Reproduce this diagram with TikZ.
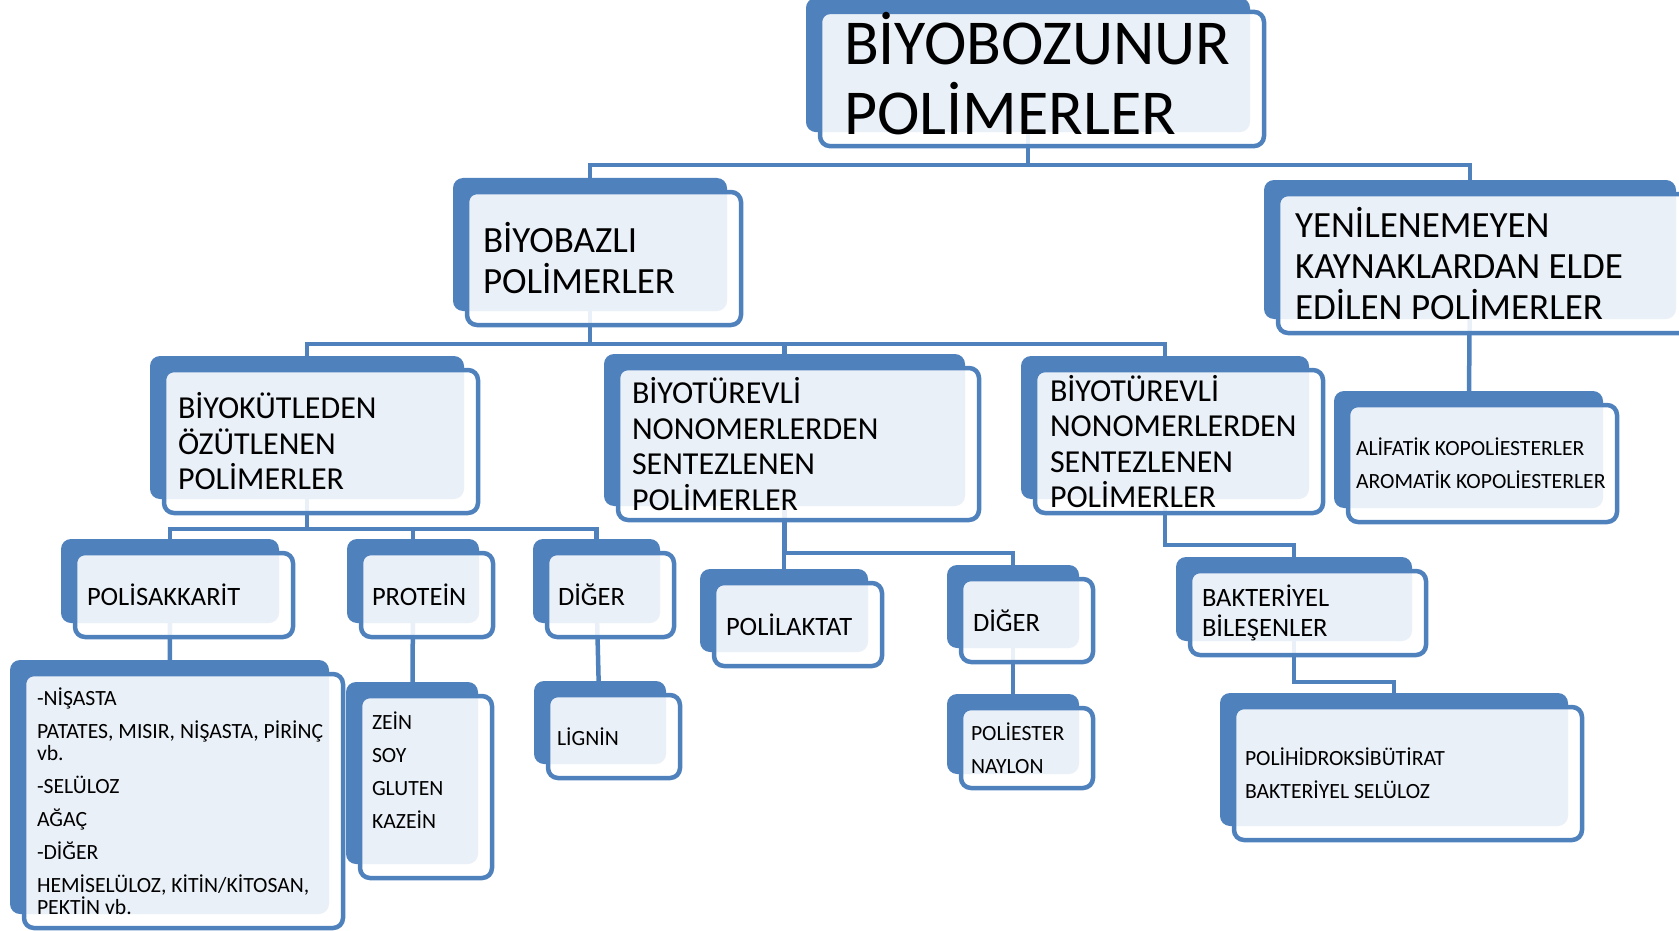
\documentclass[tikz,border=0pt]{standalone}
\usepackage{fontspec}
\setmainfont{Carlito}
\usepackage{tikz}
\usetikzlibrary{shadows,backgrounds}
\definecolor{kmavi}{RGB}{79,129,189}

\begin{document}
\begin{tikzpicture}[x=1pt,y=-1pt,
  kutu/.style={draw=kmavi,line width=4.5pt,rounded corners=10pt,fill=white,fill opacity=.885,text opacity=1,
    align=flush left,inner sep=0pt,
    general shadow={fill=kmavi,fill opacity=1,shadow xshift=-14pt,shadow yshift=14pt}},
  bag/.style={draw=kmavi,line width=4.5pt},
  f1/.style={font=\fontsize{64}{70}\selectfont},
  f2/.style={font=\fontsize{37}{41}\selectfont},
  f3/.style={font=\fontsize{32}{35.5}\selectfont},
  f4/.style={font=\fontsize{26.5}{30}\selectfont},
  f5/.style={font=\fontsize{21.7}{33}\selectfont}]
\useasboundingbox (0,0) rectangle (1679,931);

% ust seviyeler
\node[kutu,f1,minimum width=444pt,minimum height=128pt,text width=396pt] (top) at (1042,79) {BİYOBOZUNUR\\POLİMERLER\rule[-12pt]{0pt}{12pt}};
\node[kutu,f2,minimum width=274pt,minimum height=133pt,text width=242pt] (bazli) at (604,258.5) {BİYOBAZLI\\POLİMERLER};
\node[kutu,f2,minimum width=412pt,minimum height=139pt,text width=378pt] (yeni) at (1484,263.5) {YENİLENEMEYEN\\KAYNAKLARDAN ELDE\\EDİLEN POLİMERLER};
\node[kutu,f3,minimum width=314pt,minimum height=143pt,text width=286pt] (kutle) at (321,441.5) {BİYOKÜTLEDEN\\ÖZÜTLENEN\\POLİMERLER};
\node[kutu,f3,minimum width=361pt,minimum height=152pt,text width=333pt] (turev1) at (798.5,444) {BİYOTÜREVLİ\\NONOMERLERDEN\\SENTEZLENEN\\POLİMERLER};
\node[kutu,f3,minimum width=288pt,minimum height=143pt,text width=258pt] (turev2) at (1179,441.5) {BİYOTÜREVLİ\\NONOMERLERDEN\\SENTEZLENEN\\POLİMERLER};
\node[kutu,f5,minimum width=269pt,minimum height=117pt,text width=253pt] (kopol) at (1482.5,463.5) {ALİFATİK KOPOLİESTERLER\\AROMATİK KOPOLİESTERLER};

% alt seviyeler
\node[kutu,f4,minimum width=218pt,minimum height=84pt,text width=194pt] (poli) at (184,595) {POLİSAKKARİT};
\node[kutu,f4,minimum width=132pt,minimum height=84pt,text width=110pt] (prot) at (427,595) {PROTEİN};
\node[kutu,f4,minimum width=127pt,minimum height=84pt,text width=105pt] (diger1) at (610.5,595) {DİĞER};
\node[kutu,font=\fontsize{21.7}{22}\selectfont,minimum width=319pt,minimum height=254pt,text width=293pt] (nisasta) at (183.5,801)
  {-NİŞASTA\\[11pt]PATATES, MISIR, NİŞASTA, PİRİNÇ\\vb.\\[11pt]-SELÜLOZ\\[11pt]AĞAÇ\\[11pt]-DİĞER\\[11pt]HEMİSELÜLOZ, KİTİN/KİTOSAN,\\PEKTİN vb.};
\node[kutu,f5,minimum width=132pt,minimum height=182pt,text width=108pt] (zein) at (426,787) {ZEİN\\SOY\\GLUTEN\\KAZEİN\\\mbox{}};
\node[kutu,f5,minimum width=132pt,minimum height=83pt,text width=114pt] (lignin) at (614,736.5) {LİGNİN};
\node[kutu,f4,minimum width=168pt,minimum height=83pt,text width=144pt] (polilak) at (798,624.5) {POLİLAKTAT};
\node[kutu,f4,minimum width=132pt,minimum height=83pt,text width=108pt] (diger2) at (1027,620.5) {DİĞER};
\node[kutu,f5,minimum width=132pt,minimum height=80pt,text width=112pt] (poliester) at (1027,748) {POLİESTER\\NAYLON};
\node[kutu,f4,minimum width=236pt,minimum height=84pt,text width=212pt] (bakteri) at (1308,613) {BAKTERİYEL\\BİLEŞENLER};
\node[kutu,f5,minimum width=348pt,minimum height=133pt,text width=326pt] (pbh) at (1408,773.5) {POLİHİDROKSİBÜTİRAT\\BAKTERİYEL SELÜLOZ};

% baglantilar
\begin{scope}[on background layer]
\coordinate (c0) at (1028,165);
\coordinate (c1) at (590,344);
\coordinate (c2) at (307,529);
\coordinate (c3) at (784.5,553);
\coordinate (c4) at (1165,545);
\coordinate (c5) at (1294,682);
\draw[bag] ([xshift=-14pt]top.center) -- (c0) -| ([xshift=-14pt]bazli.center);
\draw[bag] (c0) -| ([xshift=-14pt]yeni.center);
\draw[bag] ([xshift=-14pt]bazli.center) -- (c1) -| ([xshift=-14pt]kutle.center);
\draw[bag] (c1) -| ([xshift=-14pt]turev1.center);
\draw[bag] (c1) -| ([xshift=-14pt]turev2.center);
\draw[bag] ([xshift=-14pt]kutle.center) -- (c2) -| ([xshift=-14pt]poli.center);
\draw[bag] (c2) -| ([xshift=-14pt]prot.center);
\draw[bag] (c2) -| ([xshift=-14pt]diger1.center);
\draw[bag] ([xshift=-14pt]turev1.center) -- (c3) -| ([xshift=-14pt]polilak.center);
\draw[bag] (c3) -| ([xshift=-14pt]diger2.center);
\draw[bag] ([xshift=-14pt]turev2.center) -- (c4) -| ([xshift=-14pt]bakteri.center);
\draw[bag] ([xshift=-14pt]bakteri.center) -- (c5) -| ([xshift=-14pt]pbh.center);
\draw[bag] ([xshift=-14pt]yeni.center) -- ([xshift=-14pt]kopol.center);
\draw[bag] ([xshift=-14pt]poli.center) -- ([xshift=-14pt]nisasta.center);
\draw[bag] ([xshift=-14pt]prot.center) -- ([xshift=-14pt]zein.center);
\draw[bag] ([xshift=-14pt]diger1.center) -- ([xshift=-14pt]lignin.center);
\draw[bag] ([xshift=-14pt]diger2.center) -- ([xshift=-14pt]poliester.center);
\end{scope}
\end{tikzpicture}
\end{document}
